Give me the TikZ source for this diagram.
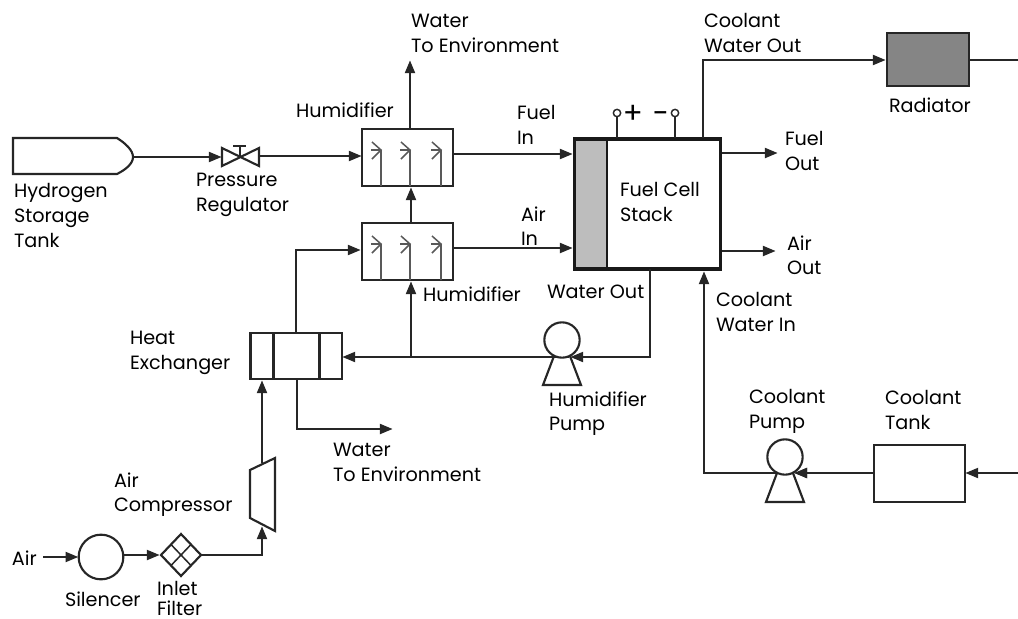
\documentclass[tikz,border=0pt]{standalone}
\usepackage{fontspec}
\setmainfont{Poppins}
\usetikzlibrary{arrows.meta}
\tikzset{
  x=0.75pt,y=-0.75pt,
  every node/.style={outer sep=0pt},
  line/.style={line width=1.4pt,draw=black!85},
  flow/.style={line,-{Triangle[length=9.5pt,width=7.5pt]},shorten >=0.3pt},
  box/.style={line width=1.6pt,draw=black!85,fill=white,inner sep=0pt,minimum width=0pt},
  lbl/.style={font=\fontsize{14.4pt}{18.5pt}\selectfont,align=left,anchor=north west,inner sep=0pt,text=black,yshift=-1.9pt},
  pt/.style={circle,draw=black!85,line width=1.1pt,fill=white,inner sep=0pt,minimum size=5.5pt},
}
\newcommand{\fins}[1]{%
  \foreach \fx in {381,410,441}{
    \draw[line width=1.15pt,draw=black!65] (\fx,#1+57) -- (\fx,#1+21) (\fx-9,#1+13) -- (\fx,#1+21) -- (\fx-9,#1+30) (\fx-10,#1+21) -- (\fx,#1+21);
  }}
\newcommand{\pumpshape}[3]{%
  \draw[box,fill=none] (#1-8,#2+16) -- (#1-19,#2+45) -- (#1+19,#2+45) -- (#1+8,#2+16);
  \node[circle,draw=black!85,line width=1.6pt,fill=white,minimum size=26.5pt,inner sep=0pt] (#3) at (#1,#2) {};
}
\begin{document}
\begin{tikzpicture}
\useasboundingbox (0,0) rectangle (1018,618);

% hydrogen tank
\draw[box] (13,138) -- (117,138) .. controls (125,143) and (133,150) .. (133,157) .. controls (133,164) and (125,170) .. (117,174) -- (13,174) -- cycle;
\coordinate (tanktip) at (133,157);

% pressure regulator
\coordinate (vc) at (240,157);
\draw[box,fill=none] (222,148) -- (222,166) -- (259,148) -- (259,166) -- cycle;
\draw[box,fill=none] (240,157) -- (240,146) (233,146) -- (246,146);
\coordinate (vl) at (222,157);
\coordinate (vr) at (259,156);
\draw[flow] (tanktip) -- (vl);

% humidifiers
\node[box,draw,minimum width=68.25pt,minimum height=42.75pt,anchor=north west] (h1) at (362,129) {};
\node[box,draw,minimum width=68.25pt,minimum height=42.75pt,anchor=north west] (h2) at (362,223) {};
\fins{129}
\fins{223}
\draw[flow] (vr) -- (h1.west |- vr);
\draw[flow] (411,223) -- (411,187);
\coordinate (w1) at (410,129);
\coordinate (w1e) at (410,60);
\draw[flow] (w1) -- (w1e);

% stack
\fill[black!26] (574.5,139) rectangle (607,269);
\node[draw=black!90,line width=2.6pt,minimum width=109.5pt,minimum height=97.5pt,anchor=north west,inner sep=0pt] (st) at (574.5,139) {};
\draw[line width=1.9pt,draw=black!90] (607,139) -- (607,269);
\draw[flow] (453,154) -- (573,154);
\draw[flow] (453,248) -- (573,248);
\coordinate (fo) at (778,153);
\coordinate (ao) at (776,251);
\draw[flow] (722,153) -- (fo);
\draw[flow] (722,251) -- (ao);

% terminals
\node[pt] (tp) at (617,113) {};
\node[pt] (tm) at (675,113) {};
\draw[line] (tp) -- (617,138);
\draw[line] (tm) -- (675,138);
\node[font=\fontsize{22pt}{22pt}\selectfont,inner sep=0pt,text=black] (plus) at (633,114) {+};
\node[font=\fontsize{22pt}{22pt}\selectfont,inner sep=0pt,text=black] (minus) at (660.5,118) {−};

% radiator
\node[box,draw,fill=black!48,minimum width=61.5pt,minimum height=39.75pt,anchor=north west] (rad) at (887,33) {};
\draw[flow] (703,138) -- (703,60) -- (886,60);
\coordinate (re) at (1018,60);
\draw[line] (rad.east |- re) -- (re);

% coolant tank and pump
\node[box,draw,minimum width=68.25pt,minimum height=43pt,anchor=north west] (ct) at (874,445) {};
\coordinate (cte) at (1018,473);
\draw[flow] (cte) -- (ct.east |- cte);
\draw[flow] (874,473) -- (794,473);
\draw[flow] (794,473) -- (704,473) -- (704,271);
\pumpshape{785}{457}{cp}
\draw[-{Triangle[length=9.5pt,width=7.5pt]},line width=1.4pt,draw=black!85,shorten >=0.3pt] (806,473) -- (794,473);

% humidifier pump
\draw[flow] (569,357) -- (342,357);
\pumpshape{562}{340}{hp}
\draw[flow] (650,269) -- (650,357) -- (570,357);
\draw[flow] (411,357) -- (411,281);

% heat exchanger
\node[box,draw,fill=none,minimum width=68.6pt,minimum height=34.5pt,anchor=north west] (hx) at (250.5,333) {};
\draw[line width=1.6pt,draw=black!85] (273.5,333) -- (273.5,379) (319.5,333) -- (319.5,379);
\draw[flow] (296,333) -- (296,250) -- (361,250);
\coordinate (we) at (393,429);
\draw[flow] (297,379) -- (297,429) -- (we);

% compressor
\draw[box] (250,470) -- (275,458) -- (275,531) -- (250,518) -- cycle;
\draw[flow] (262,463) -- (262,380);

% silencer and filter
\node[circle,draw=black!85,line width=1.6pt,minimum size=33.5pt,inner sep=0pt] (sil) at (101,557) {};
\coordinate (fc) at (181,555);
\draw[box,fill=none] (161,555) -- (181,534) -- (201,555) -- (181,576) -- cycle;
\draw[line,line width=1.15pt] (171,544.5) -- (191,565.5) (191,544.5) -- (171,565.5);
\coordinate (airin) at (43,557);
\draw[flow] (airin) -- (sil);
\draw[flow] (sil.east |- fc) -- (160,555);
\draw[flow] (201,555) -- (262,555) -- (262,526);

% labels
\node[lbl] (l1) at (14,181) {Hydrogen\\Storage\\Tank};
\node[lbl] (l2) at (196,171) {Pressure\\Regulator};
\node[lbl] (l3) at (296,100) {Humidifier};
\node[lbl] (l4) at (411,12) {Water\\To Environment};
\node[lbl] (l5) at (517,103) {Fuel\\In};
\node[lbl] (l6) at (521,204) {Air\\In};
\node[lbl] (l7) at (620,180) {Fuel Cell\\Stack};
\node[lbl] (l8) at (704,11) {Coolant\\Water Out};
\node[lbl] (l9) at (889,95) {Radiator};
\node[lbl] (l10) at (785,129) {Fuel\\Out};
\node[lbl] (l11) at (787,233) {Air\\Out};
\node[lbl] (l12) at (423,284) {Humidifier};
\node[lbl] (l13) at (547,282) {Water Out};
\node[lbl] (l14) at (716,290) {Coolant\\Water In};
\node[lbl] (l15) at (130,329) {Heat\\Exchanger};
\node[lbl] (l16) at (549,389) {Humidifier\\Pump};
\node[lbl] (l17) at (749,387) {Coolant\\Pump};
\node[lbl] (l18) at (885,388) {Coolant\\Tank};
\node[lbl] (l19) at (333,441) {Water\\To Environment};
\node[lbl] (l20) at (114,470) {Air\\Compressor};
\node[lbl] (l21) at (12,548) {Air};
\node[lbl] (l22) at (65,589) {Silencer};
\node[lbl] (l23) at (157,578.5) {Inlet\\[-3.5pt]Filter};
\end{tikzpicture}
\end{document}
